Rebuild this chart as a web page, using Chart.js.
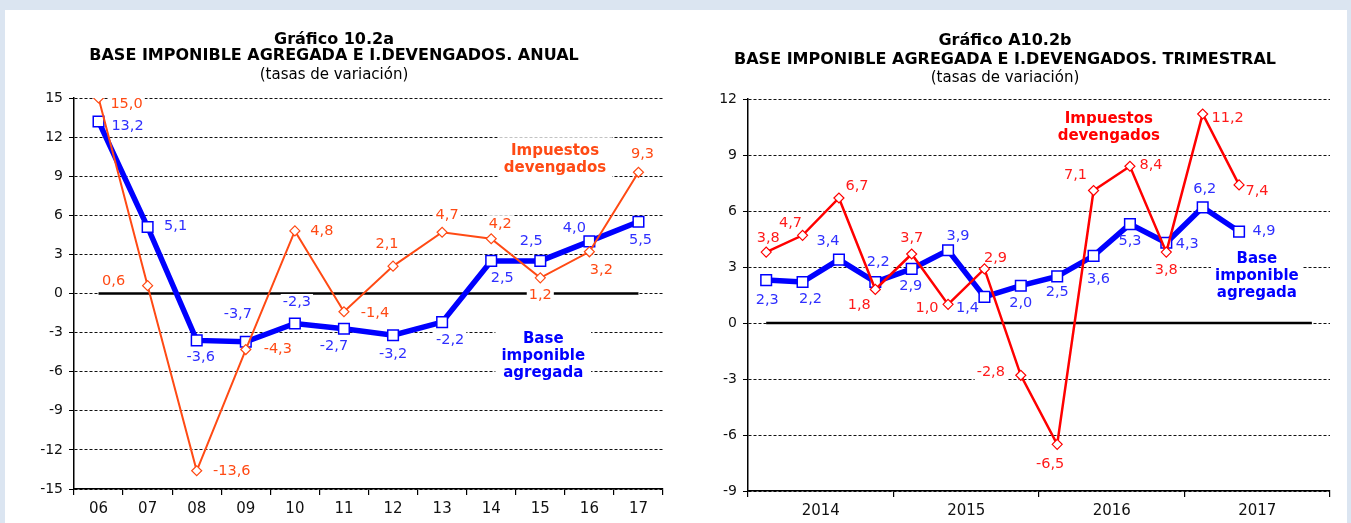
<!DOCTYPE html>
<html>
<head>
<meta charset="utf-8">
<script src="https://cdn.jsdelivr.net/npm/chart.js@4.4.0/dist/chart.umd.min.js"></script>
<style>
  html, body { margin: 0; padding: 0; width: 1351px; height: 523px; overflow: hidden; background: #dbe5f1; }
  #panel { position: absolute; left: 5px; top: 10px; width: 1342px; height: 513px; background: #fff; }
  .box { position: absolute; top: 10px; height: 513px; }
  #boxA { left: 5px; width: 675px; }
  #boxB { left: 680px; width: 667px; }
</style>
</head>
<body>
<div id="panel"></div>
<div class="box" id="boxA"><canvas id="anual" width="675" height="513"></canvas></div>
<div class="box" id="boxB"><canvas id="trim" width="667" height="513"></canvas></div>
<script>
// Gráfico 10.2a - anual
const years = ['06', '07', '08', '09', '10', '11', '12', '13', '14', '15', '16', '17'];
const impAnual = [15.0, 0.6, -13.6, -4.3, 4.8, -1.4, 2.1, 4.7, 4.2, 1.2, 3.2, 9.3];
const baseAnual = [13.2, 5.1, -3.6, -3.7, -2.3, -2.7, -3.2, -2.2, 2.5, 2.5, 4.0, 5.5];
const zeroAnual = [0, 0, 0, 0, 0, 0, 0, 0, 0, 0, 0, 0];
const ticksAnual = [-15, -12, -9, -6, -3, 0, 3, 6, 9, 12, 15];

// Gráfico A10.2b - trimestral
const quarters = ['14-I', '14-II', '14-III', '14-IV', '15-I', '15-II', '15-III', '15-IV',
                  '16-I', '16-II', '16-III', '16-IV', '17-I', '17-II', '17-III', '17-IV'];
const yearsTrim = ['2014', '2015', '2016', '2017'];
const impTrim = [3.8, 4.7, 6.7, 1.8, 3.7, 1.0, 2.9, -2.8, -6.5, 7.1, 8.4, 3.8, 11.2, 7.4, null, null];
const baseTrim = [2.3, 2.2, 3.4, 2.2, 2.9, 3.9, 1.4, 2.0, 2.5, 3.6, 5.3, 4.3, 6.2, 4.9, null, null];
const zeroTrim = [0, 0, 0, 0, 0, 0, 0, 0, 0, 0, 0, 0, 0, 0, 0, 0];
const ticksTrim = [-9, -6, -3, 0, 3, 6, 9, 12];

// where each value label sits relative to its point (px)
const impAnualPos = [[28, 6], [-34, -4], [35, 0], [32, 0], [27, 0], [31, 1], [-6, -22], [5, -17], [9, -15], [0, 17], [12, 18], [4, -18]];
const baseAnualPos = [[29, 5], [28, -1], [4, 17], [-8, -27], [2, -21], [-10, 18], [0, 19], [8, 18], [11, 17], [-9, -20], [-15, -13], [2, 18]];
const impTrimPos = [[2, -14], [-12, -12], [18, -12], [-16, 16], [0, -16], [-21, 4], [11, -11], [-30, -3], [-7, 20], [-18, -15], [21, -1], [0, 18], [25, 4], [18, 6]];
const baseTrimPos = [[1, 20], [8, 17], [-11, -18], [3, -20], [-1, 17], [10, -14], [-17, 11], [0, 18], [0, 16], [5, 23], [0, 17], [21, 1], [2, -18], [25, 0]];

const FONT = "'DejaVu Sans', Verdana, sans-serif";
const fmt = v => v.toFixed(1).replace('.', ',');

// value labels + text notes, with white boxes that cut the grid like the original
function labelPlugin(notes) {
  function collect(chart) {
    const ctx = chart.ctx;
    const items = [];
    chart.data.datasets.forEach((ds, i) => {
      if (!ds.labelOffsets) return;
      chart.getDatasetMeta(i).data.forEach((pt, j) => {
        const v = ds.data[j];
        if (v === null || v === undefined) return;
        const off = ds.labelOffsets[j];
        items.push({ x: pt.x + off[0], y: pt.y + off[1], lines: [fmt(v)], font: '14.5px ' + FONT,
                     color: ds.labelColor, lh: 15, pad: [2, 1] });
      });
    });
    notes.forEach(n => {
      items.push({ x: chart.scales.x.getPixelForValue(n.at[0]), y: chart.scales.y.getPixelForValue(n.at[1]),
                   lines: n.lines, font: 'bold 15px ' + FONT, color: n.color, lh: 17, pad: n.pad });
    });
    items.forEach(it => {
      ctx.save();
      ctx.font = it.font;
      it.w = Math.max(...it.lines.map(t => ctx.measureText(t).width));
      ctx.restore();
      it.h = it.lines.length * it.lh;
    });
    return items;
  }
  return {
    id: 'valueLabels',
    afterDatasetDraw(chart, args) {
      // zero line is the last dataset, drawn first: boxes go right above it
      if (args.index !== chart.data.datasets.length - 1) return;
      const ctx = chart.ctx;
      ctx.save();
      ctx.fillStyle = '#fff';
      collect(chart).forEach(it => {
        if (!it.pad) return;
        ctx.fillRect(it.x - it.w / 2 - it.pad[0], it.y - it.h / 2 - it.pad[1], it.w + 2 * it.pad[0], it.h + 2 * it.pad[1]);
      });
      ctx.restore();
    },
    afterDatasetsDraw(chart) {
      const ctx = chart.ctx;
      ctx.save();
      ctx.textAlign = 'center';
      ctx.textBaseline = 'middle';
      collect(chart).forEach(it => {
        ctx.font = it.font;
        ctx.fillStyle = it.color;
        it.lines.forEach((t, k) => ctx.fillText(t, it.x, it.y + (k - (it.lines.length - 1) / 2) * it.lh));
      });
      ctx.restore();
    }
  };
}

function series(imp, base, zero, red, redText, redWidth, impPos, basePos) {
  return [
    { data: imp, borderColor: red, borderWidth: redWidth, tension: 0,
      pointStyle: 'rectRot', pointRadius: 5, pointBackgroundColor: '#fff', pointBorderColor: red, pointBorderWidth: 1.2,
      labelOffsets: impPos, labelColor: redText },
    { data: base, borderColor: '#0000ff', borderWidth: 5.5, tension: 0,
      pointStyle: 'rect', pointRadius: 7.5, pointBackgroundColor: '#fff', pointBorderColor: '#0000ff', pointBorderWidth: 1.5,
      labelOffsets: basePos, labelColor: '#2f2fff' },
    { data: zero, borderColor: '#000', borderWidth: 2.5, pointRadius: 0, tension: 0 }
  ];
}

function yAxis(min, max, ticks, width) {
  return {
    min: min, max: max,
    afterBuildTicks: s => { s.ticks = ticks.map(v => ({ value: v })); },
    afterFit: s => { s.width = width; },
    grid: { color: '#111', lineWidth: 1, tickLength: 5, tickColor: '#000', tickBorderDash: [] },
    border: { display: true, color: '#000', width: 1.5, dash: [3, 2] },
    ticks: { color: '#111', font: { family: FONT, size: 14 }, padding: 6 }
  };
}

function xGrid() {
  return { offset: true, drawOnChartArea: false, drawTicks: true, tickLength: 6, color: '#000', lineWidth: 1.2 };
}

function titles(main, lh, padTop, subTop, subBottom) {
  return {
    title: { display: true, text: main, color: '#000',
             font: { family: FONT, size: 16, weight: 'bold', lineHeight: lh }, padding: { top: padTop, bottom: 0 } },
    subtitle: { display: true, text: '(tasas de variación)', color: '#000',
                font: { family: FONT, size: 15, lineHeight: 1.2 }, padding: { top: subTop, bottom: subBottom } },
    legend: { display: false },
    tooltip: { enabled: false }
  };
}

// Gráfico 10.2a
new Chart(document.getElementById('anual'), {
  type: 'line',
  data: {
    labels: years,
    datasets: series(impAnual, baseAnual, zeroAnual, '#ff4a14', '#ff4a14', 2, impAnualPos, baseAnualPos)
  },
  options: {
    responsive: false, animation: false, events: [],
    layout: { padding: { left: 0, right: 17, top: 0, bottom: 0 } },
    plugins: titles(['Gráfico 10.2a', 'BASE IMPONIBLE AGREGADA E I.DEVENGADOS. ANUAL'], 1.0, 22, 2, 14),
    scales: {
      x: {
        offset: true,
        afterFit: s => { s.height = 34; },
        grid: xGrid(),
        border: { color: '#000', width: 1.5 },
        ticks: { color: '#111', font: { family: FONT, size: 15 }, padding: 5, maxRotation: 0 }
      },
      y: yAxis(-15, 15, ticksAnual, 69)
    }
  },
  plugins: [labelPlugin([
    { lines: ['Impuestos', 'devengados'], at: [9.3, 10.3], color: '#ff4a14', pad: [6, 5] },
    { lines: ['Base', 'imponible', 'agregada'], at: [9.06, -4.8], color: '#0000ff', pad: [6, 1] }
  ])]
});

// Gráfico A10.2b
new Chart(document.getElementById('trim'), {
  type: 'line',
  data: {
    labels: quarters,
    datasets: series(impTrim, baseTrim, zeroTrim, '#ff0000', '#ff1a1a', 2.5, impTrimPos, baseTrimPos)
  },
  options: {
    responsive: false, animation: false, events: [],
    layout: { padding: { left: 0, right: 17, top: 0, bottom: 0 } },
    plugins: titles(['Gráfico A10.2b', 'BASE IMPONIBLE AGREGADA E I.DEVENGADOS. TRIMESTRAL'], 1.19, 21, 0, 12),
    scales: {
      x: { display: false, offset: true },
      yr: {
        type: 'category', position: 'bottom', labels: yearsTrim, offset: true,
        afterFit: s => { s.height = 32; },
        grid: xGrid(),
        border: { color: '#000', width: 1.5 },
        ticks: { color: '#111', font: { family: FONT, size: 15 }, padding: 5, maxRotation: 0 }
      },
      y: yAxis(-9, 12, ticksTrim, 68)
    }
  },
  plugins: [labelPlugin([
    { lines: ['Impuestos', 'devengados'], at: [9.42, 10.46], color: '#ff0000', pad: [2, 0] },
    { lines: ['Base', 'imponible', 'agregada'], at: [13.49, 2.53], color: '#0000ff', pad: [4, 1] }
  ])]
});
</script>
</body>
</html>
